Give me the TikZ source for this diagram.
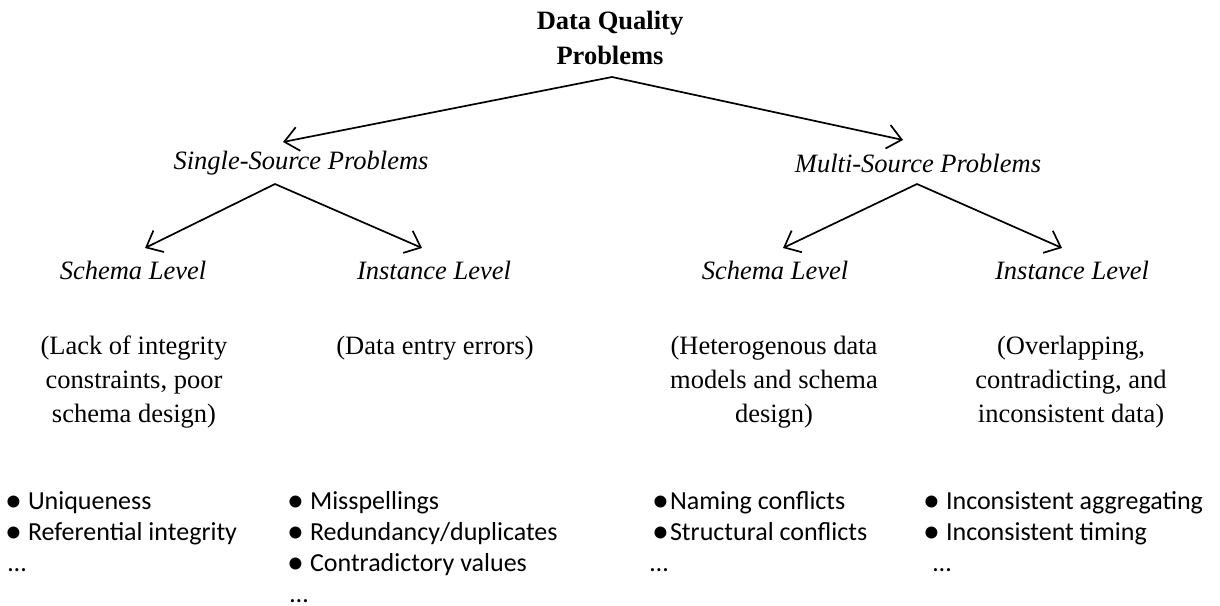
\documentclass[tikz,border=0pt]{standalone}
\usepackage{graphicx}
\usepackage{fontspec}
\setmainfont{Liberation Serif}
\newfontfamily\listfont{Carlito}
\usetikzlibrary{arrows.meta}

% slightly enlarged list bullet, kept centred on the text's x-height
\newcommand\itemdot{\raisebox{-2.6pt}{\scalebox{1.3}{•}}}

\tikzset{
  treearrow/.style={line width=1.7pt,
    -{Straight Barb[length=14pt,width=24pt,line width=1.7pt]}},
  heading/.style={inner sep=0pt, align=center,
    font=\fontsize{26.5}{35}\selectfont\bfseries},
  category/.style={inner sep=0pt, align=center,
    font=\fontsize{26.5}{35}\selectfont\itshape},
  detail/.style={inner sep=0pt, align=center, anchor=north,
    font=\fontsize{26.5}{34}\selectfont},
  itemlist/.style={inner sep=0pt, align=left, anchor=north west,
    font=\listfont\fontsize{26}{31}\selectfont}
}

\begin{document}
\begin{tikzpicture}[x=1pt,y=-1pt]
  \useasboundingbox (0,0) rectangle (1220,605);

  % top of the tree
  \node[heading] (root) at (610,38) {Data Quality\\Problems};

  % first level
  \node[category] (single) at (301,163) {Single-Source Problems};
  \node[category] (multi)  at (918,163) {Multi-Source Problems};

  % second level
  \node[category] (sschema) at (133,270) {Schema Level};
  \node[category] (sinst)   at (434,270) {Instance Level};
  \node[category] (mschema) at (775,270) {Schema Level};
  \node[category] (minst)   at (1072,270) {Instance Level};

  % branch points and arrow ends
  \coordinate (rootfork) at (612,77);
  \coordinate (singletop) at (283,142);
  \coordinate (multitop)  at (903,140);
  \coordinate (singlefork) at (275,184);
  \coordinate (multifork)  at (917,184);
  \coordinate (sschematop) at (145,248);
  \coordinate (sinsttop)   at (422,248);
  \coordinate (mschematop) at (783,248);
  \coordinate (minsttop)   at (1062,248);

  \draw[treearrow] (rootfork) -- (singletop);
  \draw[treearrow] (rootfork) -- (multitop);
  \draw[treearrow] (singlefork) -- (sschematop);
  \draw[treearrow] (singlefork) -- (sinsttop);
  \draw[treearrow] (multifork) -- (mschematop);
  \draw[treearrow] (multifork) -- (minsttop);

  % descriptions
  \node[detail] (sschemad) at (134,336)
    {(Lack of integrity\\constraints, poor\\schema design)};
  \node[detail] (sinstd) at (435,336) {(Data entry errors)};
  \node[detail] (mschemad) at (774,336)
    {(Heterogenous data\\models and schema\\design)};
  \node[detail] (minstd) at (1071,336)
    {(Overlapping,\\contradicting, and\\inconsistent data)};

  % example lists
  \node[itemlist] (sschemal) at (5,491)
    {\itemdot\kern6pt Uniqueness\\\itemdot\kern6pt Referential integrity\\\kern3pt…};
  \node[itemlist] (sinstl) at (287,491)
    {\itemdot\kern6pt Misspellings\\\itemdot\kern6pt Redundancy/duplicates\\
     \itemdot\kern6pt Contradictory values\\\kern3pt…};
  \node[itemlist] (mschemal) at (650,491)
    {\kern2pt\itemdot\kern1pt Naming conflicts\\
     \kern2pt\itemdot\kern1pt Structural conflicts\\…};
  \node[itemlist] (minstl) at (923,491)
    {\itemdot\kern6pt Inconsistent aggregating\\\itemdot\kern6pt Inconsistent timing\\
     \kern10pt…};
\end{tikzpicture}
\end{document}
